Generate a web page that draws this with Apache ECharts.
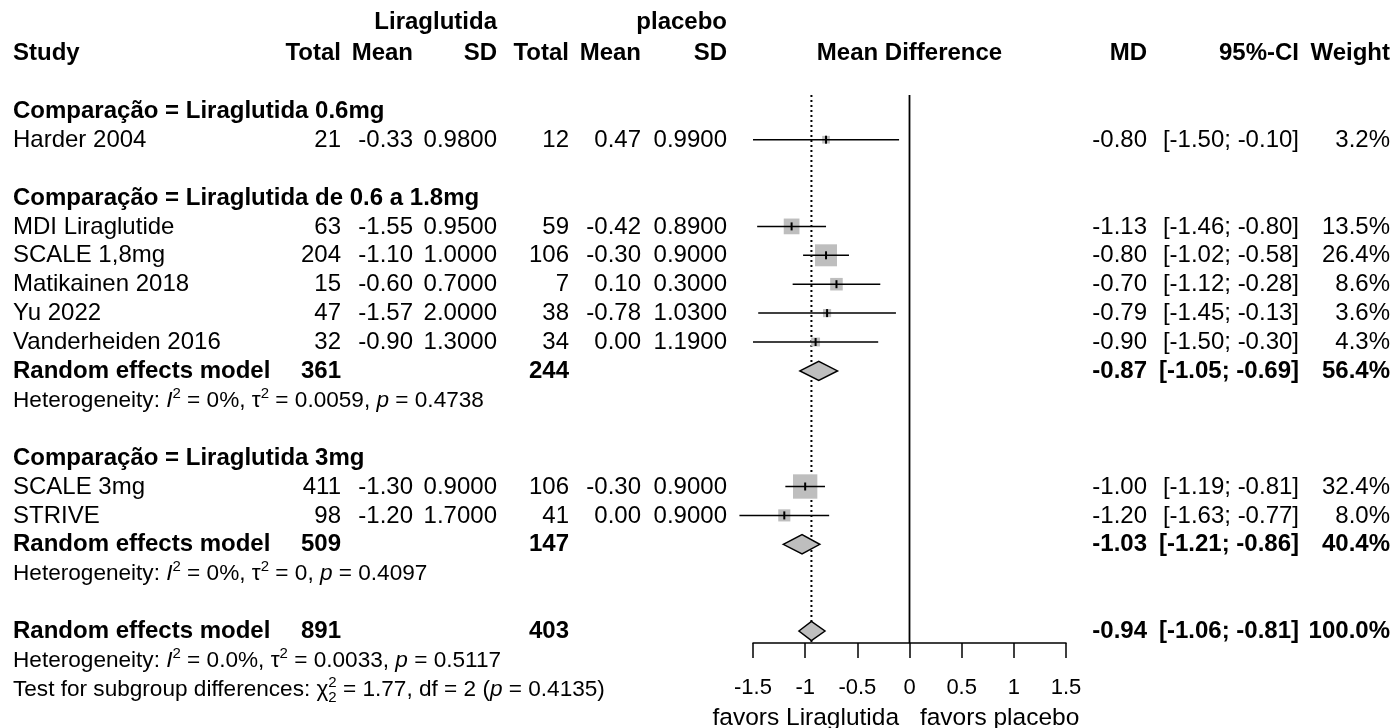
<!DOCTYPE html>
<html><head><meta charset="utf-8">
<script src="https://cdn.jsdelivr.net/npm/echarts@6/dist/echarts.min.js"></script>
<style>html,body{margin:0;padding:0;background:#fff}#c{width:1397px;height:728px}</style>
</head><body><div id="c"></div>
<script>
// ---------- data ----------
const groupNames = ["Liraglutida 0.6mg", "Liraglutida de 0.6 a 1.8mg", "Liraglutida 3mg"];
const studies = ["Harder 2004", "MDI Liraglutide", "SCALE 1,8mg", "Matikainen 2018", "Yu 2022", "Vanderheiden 2016", "SCALE 3mg", "STRIVE"];
const studyGroup = [0, 1, 1, 1, 1, 1, 2, 2];
const totalE = [21, 63, 204, 15, 47, 32, 411, 98];
const meanE = [-0.33, -1.55, -1.10, -0.60, -1.57, -0.90, -1.30, -1.20];
const sdE = [0.98, 0.95, 1.00, 0.70, 2.00, 1.30, 0.90, 1.70];
const totalC = [12, 59, 106, 7, 38, 34, 106, 41];
const meanC = [0.47, -0.42, -0.30, 0.10, -0.78, 0.00, -0.30, 0.00];
const sdC = [0.99, 0.89, 0.90, 0.30, 1.03, 1.19, 0.90, 0.90];
const md = [-0.80, -1.13, -0.80, -0.70, -0.79, -0.90, -1.00, -1.20];
const ciLo = [-1.50, -1.46, -1.02, -1.12, -1.45, -1.50, -1.19, -1.63];
const ciHi = [-0.10, -0.80, -0.58, -0.28, -0.13, -0.30, -0.81, -0.77];
const weight = [3.2, 13.5, 26.4, 8.6, 3.6, 4.3, 32.4, 8.0];

// subgroup random-effects (group 0 has a single study: no pooled row)
const subMD = [null, -0.87, -1.03];
const subLo = [null, -1.05, -1.21];
const subHi = [null, -0.69, -0.86];
const subW = [null, 56.4, 40.4];
const subTotalE = [null, 361, 509];
const subTotalC = [null, 244, 147];
const subI2 = [null, "0%", "0%"];
const subTau2 = [null, "0.0059", "0"];
const subP = [null, "0.4738", "0.4097"];

// overall
const allMD = -0.94, allLo = -1.06, allHi = -0.81, allW = 100.0;
const allTotalE = 891, allTotalC = 403;
const allI2 = "0.0%", allTau2 = "0.0033", allP = "0.5117";
const testChi2 = "1.77", testDf = 2, testP = "0.4135";

const xTicks = [-1.5, -1, -0.5, 0, 0.5, 1, 1.5];
const favorsLeft = "favors Liraglutida", favorsRight = "favors placebo";

// ---------- layout ----------
const FONT = '"Liberation Sans", Arial, sans-serif';
const FS = 24, FS_SMALL = 22.6, FS_SUP = 15;
const ROW0_Y = 53, ROW_H = 28.9, TEXT_DY = 0.5;
const GRID_TOP = 95, GRID_BOTTOM_Y = 643;
const yMinRow = (GRID_TOP - ROW0_Y) / ROW_H;
const yMaxRow = (GRID_BOTTOM_Y - ROW0_Y) / ROW_H;
const COL = { study: 13, tE: 341, mE: 413, sE: 497, tC: 569, mC: 641, sC: 727, md: 1147, ci: 1299, w: 1390 };

const f2 = v => v.toFixed(2);
const ciStr = (a, b) => "[" + f2(a) + "; " + f2(b) + "]";

// build rows
const rows = [];
rows.push({ r: -1.07, kind: 'head1' });
rows.push({ r: 0, kind: 'head0' });
let r = 2;
const studyRows = [], diamondRows = [];
for (let g = 0; g < groupNames.length; g++) {
  rows.push({ r: r++, kind: 'group', g });
  for (let i = 0; i < studies.length; i++) {
    if (studyGroup[i] !== g) continue;
    rows.push({ r: r, kind: 'study', i });
    studyRows.push([md[i], ciLo[i], ciHi[i], r, weight[i]]);
    r++;
  }
  if (subMD[g] !== null) {
    rows.push({ r: r, kind: 're', g });
    diamondRows.push([subMD[g], subLo[g], subHi[g], r]);
    r++;
    rows.push({ r: r++, kind: 'het', i2: subI2[g], tau: subTau2[g], p: subP[g] });
  }
  r++;
}
rows.push({ r: r, kind: 'overall' });
diamondRows.push([allMD, allLo, allHi, r]);
r++;
rows.push({ r: r++, kind: 'het', i2: allI2, tau: allTau2, p: allP });
rows.push({ r: r++, kind: 'test' });
rows.push({ r: r++, kind: 'favors' });

// measure helper
const mctx = document.createElement('canvas').getContext('2d');
function textW(t, font) { mctx.font = font; return mctx.measureText(t).width; }

function txt(x, y, text, opt) {
  opt = opt || {};
  return {
    type: 'text', x: x, y: y, silent: true,
    style: Object.assign({
      text: text, fill: '#000', fontFamily: FONT, fontSize: FS,
      fontWeight: opt.bold ? 'bold' : 'normal',
      align: opt.align || 'left', verticalAlign: 'middle'
    }, opt.style || {})
  };
}
const supRich = {
  it: { fontStyle: 'italic', fontSize: FS_SMALL, fontFamily: FONT, lineHeight: 28 },
  sup: { fontSize: FS_SUP, fontFamily: FONT, verticalAlign: 'top', lineHeight: 15 },
  n: { fontSize: FS_SMALL, fontFamily: FONT, lineHeight: 28 }
};

function renderRow(params, api) {
  const row = rows[params.dataIndex];
  const y = api.coord([0, row.r])[1] + TEXT_DY;
  const els = [];
  const B = { bold: true };
  const R = (x, t, bold) => txt(x, y, t, { align: 'right', bold: bold });
  switch (row.kind) {
    case 'head1':
      els.push(R(COL.sE, 'Liraglutida', true), R(COL.sC, 'placebo', true));
      break;
    case 'head0':
      els.push(txt(COL.study, y, 'Study', B), R(COL.tE, 'Total', true), R(COL.mE, 'Mean', true),
        R(COL.sE, 'SD', true), R(COL.tC, 'Total', true), R(COL.mC, 'Mean', true), R(COL.sC, 'SD', true),
        txt(api.coord([0, 0])[0], y, 'Mean Difference', { bold: true, align: 'center' }),
        R(COL.md, 'MD', true), R(COL.ci, '95%-CI', true), R(COL.w, 'Weight', true));
      break;
    case 'group':
      els.push(txt(COL.study, y, 'Comparação = ' + groupNames[row.g], B));
      break;
    case 'study': {
      const i = row.i;
      els.push(txt(COL.study, y, studies[i]), R(COL.tE, String(totalE[i])), R(COL.mE, f2(meanE[i])),
        R(COL.sE, sdE[i].toFixed(4)), R(COL.tC, String(totalC[i])), R(COL.mC, f2(meanC[i])),
        R(COL.sC, sdC[i].toFixed(4)), R(COL.md, f2(md[i])), R(COL.ci, ciStr(ciLo[i], ciHi[i])),
        R(COL.w, weight[i].toFixed(1) + '%'));
      break;
    }
    case 're': {
      const g = row.g;
      els.push(txt(COL.study, y, 'Random effects model', B), R(COL.tE, String(subTotalE[g]), true),
        R(COL.tC, String(subTotalC[g]), true), R(COL.md, f2(subMD[g]), true),
        R(COL.ci, ciStr(subLo[g], subHi[g]), true), R(COL.w, subW[g].toFixed(1) + '%', true));
      break;
    }
    case 'overall':
      els.push(txt(COL.study, y, 'Random effects model', B), R(COL.tE, String(allTotalE), true),
        R(COL.tC, String(allTotalC), true), R(COL.md, f2(allMD), true),
        R(COL.ci, ciStr(allLo, allHi), true), R(COL.w, allW.toFixed(1) + '%', true));
      break;
    case 'het':
      els.push(txt(COL.study, y,
        '{n|Heterogeneity: }{it|I}{sup|2}{n| = ' + row.i2 + ', τ}{sup|2}{n| = ' + row.tau + ', }{it|p}{n| = ' + row.p + '}',
        { style: { fontSize: FS_SMALL, rich: supRich } }));
      break;
    case 'test': {
      const pre = 'Test for subgroup differences: χ';
      els.push(txt(COL.study, y,
        '{n|' + pre + '}{sup|2}{n| = ' + testChi2 + ', df = ' + testDf + ' (}{it|p}{n| = ' + testP + ')}',
        { style: { fontSize: FS_SMALL, rich: supRich } }));
      const sx = COL.study + textW(pre, FS_SMALL + 'px ' + FONT);
      els.push(txt(sx, y + 9, String(testDf), { style: { fontSize: FS_SUP } }));
      break;
    }
    case 'favors':
      els.push(txt(api.coord([-0.1, 0])[0], y, favorsLeft, { align: 'right', style: { fontSize: 24.5 } }),
        txt(api.coord([0.1, 0])[0], y, favorsRight, { align: 'left', style: { fontSize: 24.5 } }));
      break;
  }
  return { type: 'group', children: els };
}

function renderRef(params, api) {
  const top0 = api.coord([0, yMinRow]), bot0 = api.coord([0, yMaxRow]);
  const topM = api.coord([allMD, yMinRow]), botM = api.coord([allMD, yMaxRow]);
  return {
    type: 'group', children: [
      { type: 'line', shape: { x1: topM[0], y1: topM[1], x2: botM[0], y2: botM[1] },
        style: { stroke: '#000', lineWidth: 2, lineDash: [2, 3] } },
      { type: 'line', shape: { x1: top0[0], y1: top0[1], x2: bot0[0], y2: bot0[1] },
        style: { stroke: '#000', lineWidth: 1.8 } }
    ]
  };
}

function renderStudy(params, api) {
  const m = api.value(0), lo = api.value(1), hi = api.value(2), rr = api.value(3), w = api.value(4);
  const c = api.coord([m, rr]), pl = api.coord([lo, rr]), ph = api.coord([hi, rr]);
  const s = 4.28 * Math.sqrt(w);
  return {
    type: 'group', children: [
      { type: 'rect', shape: { x: c[0] - s / 2, y: c[1] - s / 2, width: s, height: s }, style: { fill: '#BEBEBE' } },
      { type: 'line', shape: { x1: pl[0], y1: pl[1], x2: ph[0], y2: ph[1] }, style: { stroke: '#000', lineWidth: 1.5 } },
      { type: 'line', shape: { x1: c[0], y1: c[1] - 4, x2: c[0], y2: c[1] + 4 }, style: { stroke: '#000', lineWidth: 2 } }
    ]
  };
}

function renderDiamond(params, api) {
  const m = api.value(0), lo = api.value(1), hi = api.value(2), rr = api.value(3);
  const c = api.coord([m, rr]), pl = api.coord([lo, rr]), ph = api.coord([hi, rr]);
  const h = 9.6;
  return {
    type: 'polygon',
    shape: { points: [[pl[0], c[1]], [c[0], c[1] - h], [ph[0], c[1]], [c[0], c[1] + h]] },
    style: { fill: '#BEBEBE', stroke: '#000', lineWidth: 1.5 }
  };
}

const chart = echarts.init(document.getElementById('c'));
chart.setOption({
  animation: false,
  backgroundColor: '#fff',
  grid: { left: 753, right: 1397 - 1066, top: GRID_TOP, bottom: 728 - GRID_BOTTOM_Y },
  xAxis: {
    type: 'value', min: xTicks[0], max: xTicks[xTicks.length - 1], interval: 0.5,
    splitLine: { show: false },
    axisLine: { show: true, onZero: false, lineStyle: { color: '#000', width: 1.5 } },
    axisTick: { show: true, length: 15, lineStyle: { color: '#000', width: 1.5 } },
    axisLabel: { color: '#000', fontSize: 22, fontFamily: FONT, margin: 34, formatter: v => String(v) }
  },
  yAxis: { type: 'value', inverse: true, min: yMinRow, max: yMaxRow, show: false },
  series: [
    { type: 'custom', renderItem: renderRef, data: [[0, 0]], clip: false, silent: true, z: 1 },
    { type: 'custom', renderItem: renderStudy, data: studyRows, clip: false, silent: true, z: 2,
      encode: { x: [0, 1, 2], y: 3 } },
    { type: 'custom', renderItem: renderDiamond, data: diamondRows, clip: false, silent: true, z: 2,
      encode: { x: [0, 1, 2], y: 3 } },
    { type: 'custom', renderItem: renderRow, data: rows.map(o => [0, o.r]), clip: false, silent: true, z: 3 }
  ]
});
</script>
</body></html>
